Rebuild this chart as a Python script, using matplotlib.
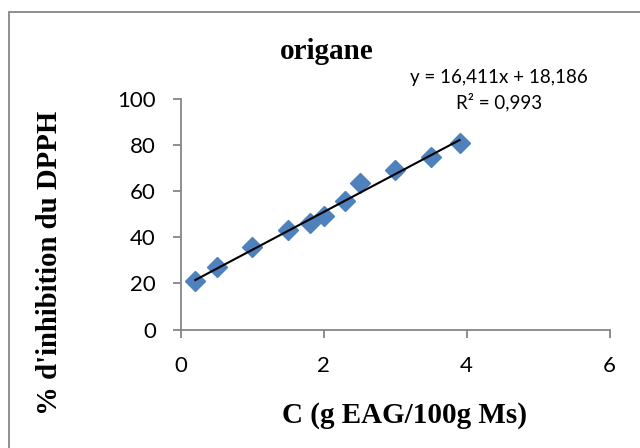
import matplotlib
matplotlib.use("Agg")
import matplotlib.pyplot as plt
from matplotlib.patches import Rectangle

# Données (origane)
conc = [0.2, 0.5, 1.0, 1.5, 1.8, 2.0, 2.3, 2.5, 3.0, 3.5, 3.9]
inhib = [21.0, 27.0, 35.8, 43.3, 46.2, 49.1, 55.8, 63.5, 69.0, 75.0, 81.0]

# Courbe de tendance affichée
pente = 16.411
ordonnee = 18.186
r2 = 0.993

x_ticks = [0, 2, 4, 6]
y_ticks = [0, 20, 40, 60, 80, 100]

GRIS = "#868686"
BLEU = "#4F81BD"

fig = plt.figure(figsize=(6.4, 4.48), dpi=100)
ax = fig.add_axes([181 / 640, 1 - 329.5 / 448, (609.5 - 181) / 640, (329.5 - 99) / 448])

ax.plot(conc, inhib, linestyle="none", marker="D", markersize=10.5,
        color=BLEU, markeredgecolor=BLEU, zorder=2)
xs = [min(conc), max(conc)]
ax.plot(xs, [pente * x + ordonnee for x in xs], color="black", lw=1.5, zorder=3)

ax.set_xlim(0, 6)
ax.set_ylim(0, 100)
ax.set_xticks(x_ticks)
ax.set_yticks(y_ticks)
for s in ["top", "right"]:
    ax.spines[s].set_visible(False)
for s in ["left", "bottom"]:
    ax.spines[s].set_color(GRIS)
    ax.spines[s].set_linewidth(1.3)
ax.tick_params(colors=GRIS, length=6, width=1.3, labelcolor="black",
               labelsize=16)
ax.tick_params(axis="x", pad=13)
ax.tick_params(axis="y", pad=12)
for lab in ax.get_xticklabels() + ax.get_yticklabels():
    lab.set_family("Lato")

fig.text(327 / 640, 1 - 59 / 448, "origane", ha="center", va="baseline",
         family="Liberation Serif", fontweight="bold", fontsize=21)
fig.text(405 / 640, 1 - 415 / 448, "C (g EAG/100g Ms)", ha="center", va="center",
         family="Liberation Serif", fontweight="bold", fontsize=21)
fig.text(50 / 640, 1 - 263 / 448, "% d'inhibition du DPPH", ha="center", va="center",
         rotation=90, family="Liberation Serif", fontweight="bold", fontsize=20.7)

eq = f"y = {pente:.3f}x + {ordonnee:.3f}".replace(".", ",")
fig.text(499 / 640, 1 - 77 / 448, eq, ha="center", va="center",
         family="Lato", fontsize=13.5)
fig.text(499 / 640, 1 - 102 / 448, f"R² = {r2:.3f}".replace(".", ","),
         ha="center", va="center", family="Lato", fontsize=13.5)

# cadre de la zone de graphique
fig.patches.append(Rectangle((9 / 640, -0.1), 1.2, 1.1 - 12 / 448, transform=fig.transFigure,
                             fill=False, edgecolor=GRIS, lw=1.3, clip_on=False))

fig.savefig("out.png", dpi=100)
